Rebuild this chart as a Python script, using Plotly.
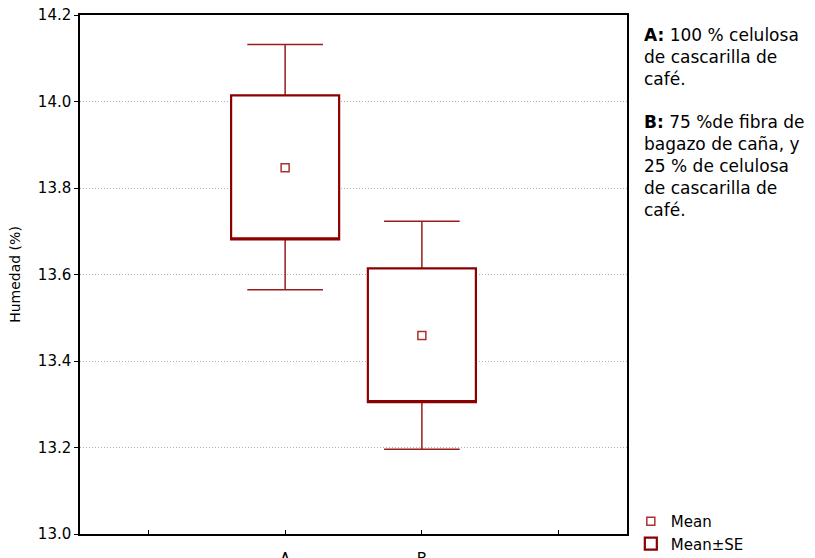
import plotly.graph_objects as go

# Data
categories = ["A", "B"]
cat_pos = [1, 2]
tick_vals = [0, 1, 2, 3]
tick_text = ["", "A", "B", ""]
means = [13.847, 13.459]
se_low = [13.681, 13.305]
se_high = [14.014, 13.614]
whisk_low = [13.565, 13.196]
whisk_high = [14.132, 13.723]

y_ticks = [13.0, 13.2, 13.4, 13.6, 13.8, 14.0, 14.2]

FONT = "DejaVu Sans, Verdana, sans-serif"
RED = "#8b0000"

fig = go.Figure()

# whiskers (collapsed box at the mean, fences at whisker ends)
fig.add_trace(go.Box(
    x=cat_pos, q1=means, median=means, q3=means,
    lowerfence=whisk_low, upperfence=whisk_high,
    width=0.79, whiskerwidth=0.7, fillcolor="white",
    line=dict(color="#9b1c1c", width=1.5), boxpoints=False,
    showlegend=False, hoverinfo="skip",
))

fig.add_trace(go.Scatter(
    x=cat_pos, y=means, mode="markers", name="Mean",
    marker=dict(symbol="square-open", size=8, color="#a83232",
                line=dict(width=1.5, color="#a83232")),
))

# Mean ± SE boxes
fig.add_trace(go.Box(
    x=cat_pos, q1=se_low, median=se_low, q3=se_high,
    lowerfence=se_low, upperfence=se_high,
    name="Mean±SE", width=0.79, whiskerwidth=0,
    fillcolor="white", line=dict(color=RED, width=2.2),
    boxpoints=False, hoverinfo="skip",
))

fig.add_annotation(
    xref="paper", yref="paper", x=1.027, y=0.984, xanchor="left", yanchor="top",
    align="left", showarrow=False,
    text="<b>A:</b> 100 % celulosa<br>de cascarilla de<br>café.",
    font=dict(family=FONT, size=17, color="black"),
)
fig.add_annotation(
    xref="paper", yref="paper", x=1.027, y=0.817, xanchor="left", yanchor="top",
    align="left", showarrow=False,
    text="<b>B:</b> 75 %de fibra de<br>bagazo de caña, y<br>25 % de celulosa<br>de cascarilla de<br>café.",
    font=dict(family=FONT, size=17, color="black"),
)

fig.update_layout(
    width=815, height=558,
    margin=dict(l=80, r=188, t=15, b=24, autoexpand=False),
    paper_bgcolor="white", plot_bgcolor="white",
    font=dict(family=FONT, size=15, color="black"),
    showlegend=True, boxmode="overlay",
    legend=dict(x=1.007, xanchor="left", y=0.056, yanchor="top",
                font=dict(family=FONT, size=15), tracegroupgap=0,
                bgcolor="rgba(0,0,0,0)"),
    xaxis=dict(
        range=[-0.5, 3.5], tickmode="array", tickvals=tick_vals, ticktext=tick_text,
        showgrid=False, zeroline=False, showline=True, mirror=True,
        linecolor="black", linewidth=1.5, ticks="inside", ticklen=4,
        tickcolor="black", ticklabelstandoff=10, automargin=False,
        tickfont=dict(family=FONT, size=15),
    ),
    yaxis=dict(
        range=[13.0, 14.2], tickmode="array", tickvals=y_ticks,
        ticktext=[f"{v:.1f}" for v in y_ticks],
        showgrid=True, gridcolor="#b4b4b4", griddash="1px,2px", gridwidth=1,
        zeroline=False, showline=True, mirror=True,
        linecolor="black", linewidth=1.5, ticks="outside", ticklen=4,
        tickcolor="black", automargin=False,
        tickfont=dict(family=FONT, size=15),
        title=dict(text="Humedad (%)", font=dict(family=FONT, size=14), standoff=14),
    ),
)

fig.write_html("out.html")
